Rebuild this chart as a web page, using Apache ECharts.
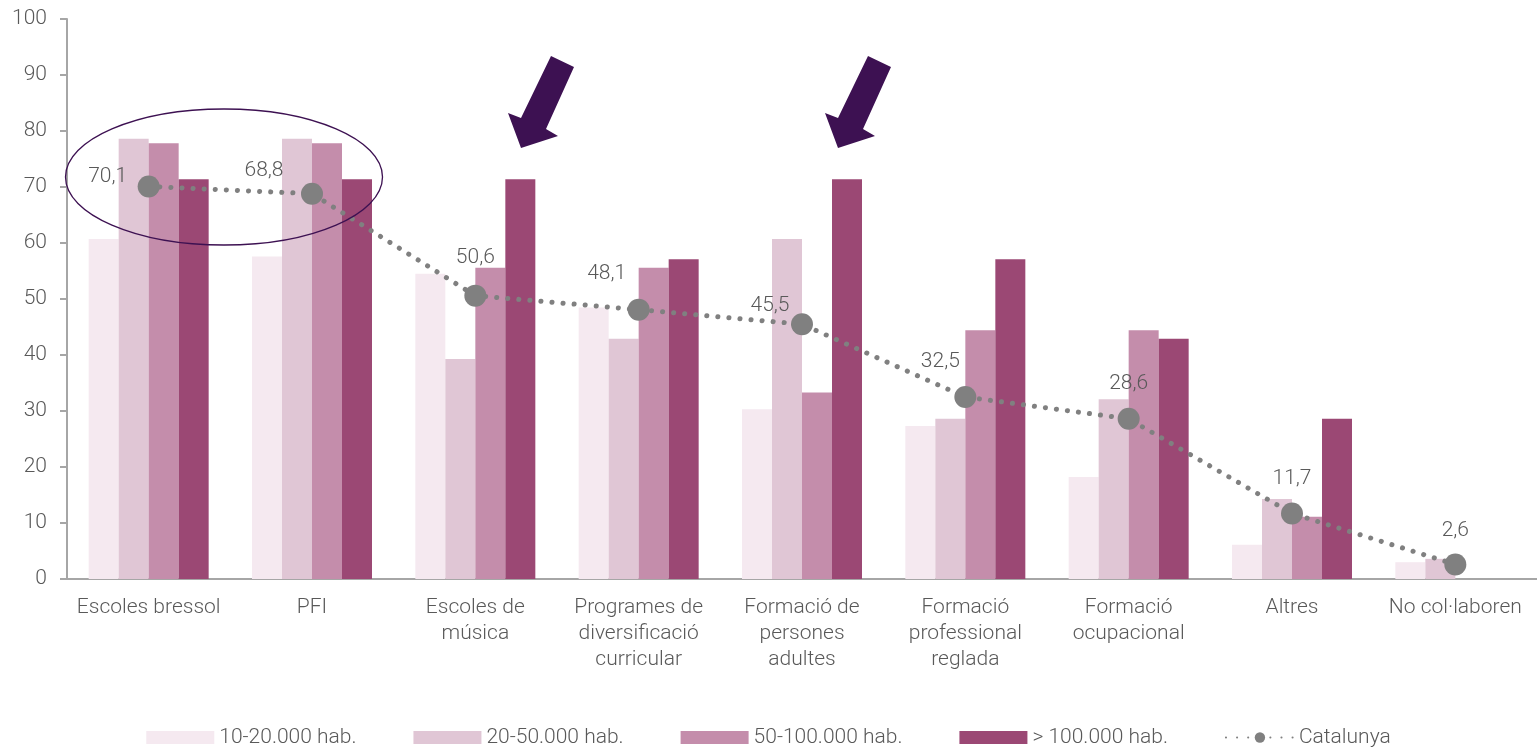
<!DOCTYPE html>
<html>
<head>
<meta charset="utf-8">
<script src="https://cdn.jsdelivr.net/npm/echarts@6/dist/echarts.min.js"></script>
<style>
  html, body { margin: 0; padding: 0; background: #fff; }
  #chart { width: 1537px; height: 749px; }
</style>
</head>
<body>
<div id="chart"></div>
<script>
const categories = [
  'Escoles bressol', 'PFI', 'Escoles de\nmúsica', 'Programes de\ndiversificació\ncurricular',
  'Formació de\npersones\nadultes', 'Formació\nprofessional\nreglada', 'Formació\nocupacional',
  'Altres', 'No col·laboren'
]
const seriesNames = ['10-20.000 hab.', '20-50.000 hab.', '50-100.000 hab.', '> 100.000 hab.']
const hab10_20 = [60.7, 57.6, 54.5, 48.5, 30.3, 27.3, 18.2, 6.1, 3.0]
const hab20_50 = [78.6, 78.6, 39.3, 42.9, 60.7, 28.6, 32.1, 14.3, 3.6]
const hab50_100 = [77.8, 77.8, 55.6, 55.6, 33.3, 44.4, 44.4, 11.1, 0]
const hab100 = [71.4, 71.4, 71.4, 57.1, 71.4, 57.1, 42.9, 28.6, 0]
const catalunya = [70.1, 68.8, 50.6, 48.1, 45.5, 32.5, 28.6, 11.7, 2.6]
const yTicks = [0, 10, 20, 30, 40, 50, 60, 70, 80, 90, 100]

const colors = ['#f5e9f0', '#e0c6d5', '#c48dab', '#9b4874']
const font = 'Roboto, "Liberation Sans", sans-serif'
const textColor = '#595959'
const purple = '#3d1152'

// label placement around each Catalunya point
const labelOffsets = [[-41, -10], [-48, -23], [0, -38], [-32, -36], [-32, -18], [-25, -35], [0, -35], [0, -35], [0, -34]]

const chart = echarts.init(document.getElementById('chart'))

const barSeries = [hab10_20, hab20_50, hab50_100, hab100].map((vals, i) => ({
  name: seriesNames[i],
  type: 'bar',
  data: vals,
  barWidth: 30,
  barGap: '0%',
  itemStyle: { color: colors[i] },
  z: 2
}))

const arrowShape = [[551, 56], [574, 67], [546, 129], [558, 136], [521, 148], [508, 113], [521, 118]]

// ellipse round the first two groups, drawn as four bezier quarters
const ell = { cx: 224, cy: 177, rx: 158.5, ry: 68 }
const k = 0.5523
const quarter = (sx, ey) => ({
  type: 'bezierCurve',
  shape: {
    x1: ell.cx + sx * ell.rx, y1: ell.cy,
    cpx1: ell.cx + sx * ell.rx, cpy1: ell.cy + ey * k * ell.ry,
    cpx2: ell.cx + sx * k * ell.rx, cpy2: ell.cy + ey * ell.ry,
    x2: ell.cx, y2: ell.cy + ey * ell.ry
  },
  style: { fill: 'none', stroke: purple, lineWidth: 1.3 },
  z: 10
})

const option = {
  animation: false,
  textStyle: { fontFamily: font },
  grid: { left: 67, right: 0, top: 19, bottom: 170 },
  legend: {
    left: 'center',
    top: 727,
    padding: 0,
    itemWidth: 68,
    itemHeight: 13,
    itemGap: 57,
    textStyle: { fontSize: 21, color: textColor, fontWeight: 300, fontFamily: font },
    data: [...seriesNames.map(n => ({ name: n, icon: 'rect' })), 'Catalunya']
  },
  xAxis: {
    type: 'category',
    data: categories,
    axisLine: { lineStyle: { color: '#a6a6a6', width: 2 } },
    axisTick: { show: false },
    axisLabel: { color: textColor, fontSize: 21, fontWeight: 300, lineHeight: 26, margin: 16, interval: 0 }
  },
  yAxis: {
    type: 'value',
    min: yTicks[0],
    max: yTicks[yTicks.length - 1],
    interval: 10,
    axisLine: { show: true, lineStyle: { color: '#a6a6a6', width: 2 } },
    axisTick: { show: true, length: 7, lineStyle: { color: '#a6a6a6', width: 2 } },
    splitLine: { show: false },
    axisLabel: { color: textColor, fontSize: 21, fontWeight: 300, margin: 20 }
  },
  series: [
    ...barSeries,
    {
      name: 'Catalunya',
      type: 'line',
      data: catalunya.map((v, i) => ({
        value: v,
        label: { offset: labelOffsets[i] }
      })),
      symbol: 'circle',
      symbolSize: 22,
      itemStyle: { color: '#808080' },
      lineStyle: { color: '#808080', width: 5, type: [0.1, 11], cap: 'round' },
      label: {
        show: true,
        position: 'inside',
        fontSize: 21,
        fontWeight: 300,
        color: textColor,
        formatter: p => String(p.value).replace('.', ',')
      },
      z: 5
    }
  ],
  graphic: [
    quarter(1, -1),
    quarter(-1, -1),
    quarter(1, 1),
    quarter(-1, 1),
    {
      type: 'polygon',
      shape: { points: arrowShape },
      style: { fill: purple },
      z: 10
    },
    {
      type: 'polygon',
      x: 317,
      shape: { points: arrowShape },
      style: { fill: purple },
      z: 10
    }
  ]
}

chart.setOption(option)
</script>
</body>
</html>
